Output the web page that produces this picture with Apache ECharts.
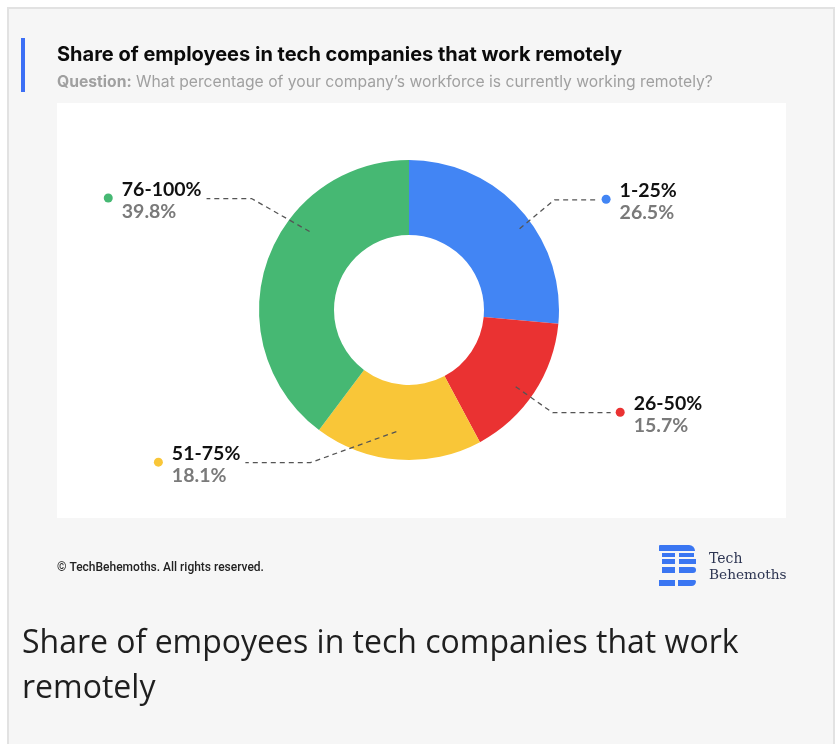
<!DOCTYPE html>
<html>
<head>
<meta charset="utf-8">
<script src="https://cdn.jsdelivr.net/npm/echarts@6/dist/echarts.min.js"></script>
<style>
  html, body { margin: 0; padding: 0; background: #ffffff; }
  #chart { width: 838px; height: 744px; }
</style>
</head>
<body>
<div id="chart"></div>
<script>
// ---- data ----
const categories = ['1-25%', '26-50%', '51-75%', '76-100%'];
const shares = [26.5, 15.7, 18.1, 39.8];
const colors = ['#4285F4', '#EA3232', '#F9C638', '#46B873'];

const titleText = 'Share of employees in tech companies that work remotely';
const questionLabel = 'Question:';
const questionText = 'What percentage of your company\u2019s workforce is currently working remotely?';
const footerText = '\u00A9 TechBehemoths. All rights reserved.';
const captionText = 'Share of empoyees in tech companies that work remotely';

// ---- label line tuning (start nudge, elbow offset from the default start, horizontal leg length) ----
const startShift = [[16, 5], [0, 6], [-3, -6], [22, -38]];
const elbowShift = [[51, -24], [37, 32], [-89, 25], [-36, -71]];
const legLen = [42, 58, 65, 45];

const chart = echarts.init(document.getElementById('chart'), null, { renderer: 'canvas' });

const pieData = categories.map((c, i) => ({ name: c, value: shares[i], itemStyle: { color: colors[i] } }));
const labelData = categories.map((c, i) => ({ name: c, value: shares[i] }));

const rich = {
  name: { fontFamily: 'Lato', fontWeight: 'bold', fontSize: 19.5, color: '#111111', lineHeight: 26, align: 'left', padding: [0, 0, 0, 9] },
  val: { fontFamily: 'Lato', fontWeight: 'bold', fontSize: 19.5, color: '#7a7a7a', lineHeight: 18, align: 'left' },
  sp: { width: 18, height: 1, align: 'left' }
};
colors.forEach((col, i) => {
  rich['dot' + i] = { width: 9, height: 9, borderRadius: 4.5, backgroundColor: col, verticalAlign: 'bottom', align: 'left' };
});

const F = 'Inter, "Noto Sans", sans-serif';

const option = {
  backgroundColor: '#ffffff',
  animation: false,
  graphic: {
    elements: [
      { type: 'rect', shape: { x: 8, y: 8, width: 826, height: 760 }, style: { fill: '#f6f6f6', stroke: '#e2e2e2', lineWidth: 2 } },
      { type: 'rect', shape: { x: 21, y: 38, width: 4, height: 54 }, style: { fill: '#3c6ff5' } },
      { type: 'rect', shape: { x: 57, y: 103, width: 729, height: 415 }, style: { fill: '#ffffff' } },
      { type: 'text', x: 57, y: 55, style: { text: titleText, font: 'bold 20px ' + F, fill: '#0b0b0b', verticalAlign: 'middle' } },
      { type: 'text', x: 57, y: 82, style: {
          text: '{q|' + questionLabel + '} ' + questionText,
          font: '15.7px ' + F, fill: '#a0a0a0', verticalAlign: 'middle',
          rich: { q: { fontFamily: F, fontWeight: 'bold', fontSize: 15.7, fill: '#a0a0a0' } }
      } },
      { type: 'text', x: 57, y: 568, style: { text: footerText, font: '500 12px Roboto, sans-serif', fill: '#222222', verticalAlign: 'middle' } },
      // logo
      { type: 'rect', shape: { x: 659, y: 545, width: 36, height: 6, r: [1, 6, 0, 0] }, style: { fill: '#3a76f2' } },
      { type: 'rect', shape: { x: 662, y: 553, width: 13, height: 4 }, style: { fill: '#3a76f2' } },
      { type: 'rect', shape: { x: 679, y: 553, width: 15, height: 4 }, style: { fill: '#3a76f2' } },
      { type: 'rect', shape: { x: 662, y: 559, width: 13, height: 5 }, style: { fill: '#3a76f2' } },
      { type: 'rect', shape: { x: 679, y: 559, width: 17, height: 5 }, style: { fill: '#3a76f2' } },
      { type: 'rect', shape: { x: 662, y: 567, width: 13, height: 6 }, style: { fill: '#3a76f2' } },
      { type: 'rect', shape: { x: 679, y: 567, width: 17, height: 6, r: [0, 3, 3, 0] }, style: { fill: '#3a76f2' } },
      { type: 'rect', shape: { x: 659, y: 580, width: 16, height: 6 }, style: { fill: '#3a76f2' } },
      { type: 'rect', shape: { x: 678, y: 580, width: 18, height: 6, r: [0, 2, 6, 0] }, style: { fill: '#3a76f2' } },
      { type: 'text', x: 709, y: 559, style: { text: 'Tech', font: '14px "DejaVu Serif", serif', fill: '#2d3552', verticalAlign: 'middle' } },
      { type: 'text', x: 709, y: 575, style: { text: 'Behemoths', font: '13.7px "DejaVu Serif", serif', fill: '#2d3552', verticalAlign: 'middle' } },
      // caption below the card content
      { type: 'text', x: 22, y: 621, style: {
          text: captionText, font: '32px "Open Sans", sans-serif', fill: '#1f1f1f',
          width: 780, overflow: 'break', lineHeight: 45, verticalAlign: 'top'
      } }
    ]
  },
  series: [
    {
      type: 'pie',
      z: 2,
      center: [409, 310],
      radius: [75, 150],
      startAngle: 90,
      clockwise: true,
      silent: true,
      label: { show: false },
      labelLine: { show: false },
      emphasis: { disabled: true },
      data: pieData
    },
    {
      type: 'pie',
      z: 5,
      center: [409, 310],
      radius: [0, 128],
      startAngle: 90,
      clockwise: true,
      silent: true,
      avoidLabelOverlap: false,
      emphasis: { disabled: true },
      itemStyle: { color: 'rgba(0,0,0,0)' },
      label: {
        show: true,
        position: 'outside',
        formatter: (p) => '{dot' + p.dataIndex + '|}{name|' + p.name + '}\n{sp|}{val|' + p.value + '%}',
        rich: rich
      },
      labelLine: {
        show: true,
        length: 20,
        length2: 40,
        lineStyle: { color: '#555555', width: 1.3, type: [5, 4] }
      },
      labelLayout: function (p) {
        const i = p.dataIndex;
        const pts = p.labelLinePoints;
        if (!pts) return {};
        const base = pts[0];
        const side = pts[2][0] >= pts[1][0] ? 1 : -1;
        const start = [base[0] + startShift[i][0], base[1] + startShift[i][1]];
        const elbow = [base[0] + elbowShift[i][0], base[1] + elbowShift[i][1]];
        const end = [elbow[0] + side * legLen[i], elbow[1]];
        return { x: end[0] + side * 5, y: end[1], labelLinePoints: [start, elbow, end] };
      },
      data: labelData
    }
  ]
};
chart.setOption(option);
</script>
</body>
</html>
